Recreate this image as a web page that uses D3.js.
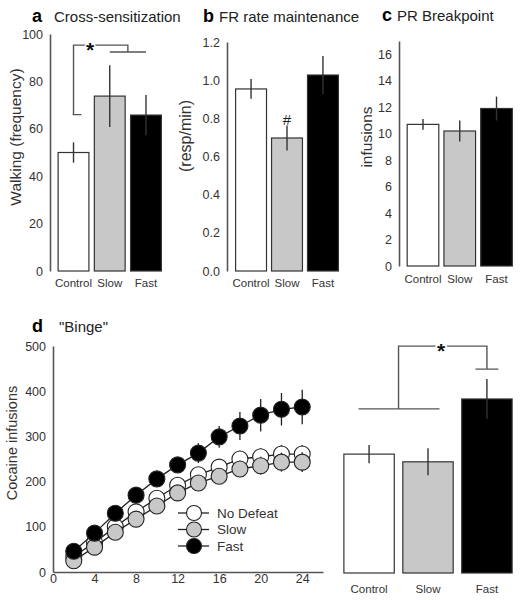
<!DOCTYPE html>
<html><head><meta charset="utf-8">
<script src="https://cdn.jsdelivr.net/npm/d3@7"></script>
<style>
body{margin:0;background:#fff}
svg text{font-family:"Liberation Sans",Arial,sans-serif}
</style>
</head><body>
<svg id="chart" width="520" height="600"></svg>
<script>
// ---------- data ----------
const groups = ["Control", "Slow", "Fast"];
const groupFills = ["#ffffff", "#c8c8c8", "#000000"];

const crossMean = [50, 73.8, 65.8];
const crossSem  = [4.3, 13, 8.5];
const crossTicks = [0, 20, 40, 60, 80, 100];

const frMean = [0.954, 0.697, 1.027];
const frSem  = [0.052, 0.065, 0.1];
const frTicks = [0, 0.2, 0.4, 0.6, 0.8, 1.0, 1.2];

const prMean = [10.7, 10.2, 11.9];
const prSem  = [0.4, 0.8, 0.9];
const prTicks = [0, 2, 4, 6, 8, 10, 12, 14, 16];

const bingeMean = [263, 246, 385];
const bingeSem  = [20, 30, 44];

const hours = [2, 4, 6, 8, 10, 12, 14, 16, 18, 20, 22, 24];
const hourTicks = [0, 4, 8, 12, 16, 20, 24];
const bingeTicks = [0, 100, 200, 300, 400, 500];
const noDefeatCum = [35, 65, 100, 133, 163, 192, 215, 232, 250, 255, 261, 261];
const noDefeatSem = [3, 5, 6, 8, 10, 12, 15, 17, 18, 19, 20, 20];
const slowCum = [25, 55, 88, 117, 146, 175, 197, 212, 228, 235, 243, 243];
const slowSem = [3, 5, 6, 8, 10, 12, 14, 16, 18, 20, 21, 22];
const fastCum = [46, 86, 130, 170, 206, 237, 263, 299, 323, 347, 360, 365];
const fastSem = [5, 8, 10, 12, 14, 16, 22, 24, 31, 36, 36, 38];
const seriesNames = ["No Defeat", "Slow", "Fast"];

// ---------- drawing ----------
const svg = d3.select("#chart");
const AX = "#555", INK = "#333";

function barPanel(o) {
  const g = svg.append("g");
  const y = d3.scaleLinear().domain(o.domain).range([o.bottom, o.top]);
  const x = d3.scaleBand().domain(groups).range(o.xr).paddingInner(o.pi).paddingOuter(0.1);
  // y axis
  const ya = g.append("g").attr("transform", `translate(${o.axisX},0)`)
    .call(d3.axisLeft(y).tickValues(o.ticks).tickFormat(o.fmt).tickSize(0).tickSizeOuter(0).tickPadding(7));
  ya.select(".domain").attr("stroke", AX).attr("stroke-width", 1.6);
  ya.selectAll("text").attr("font-size", 12.5).attr("fill", INK);
  // x axis labels
  const xa = g.append("g").attr("transform", `translate(0,${o.bottom})`)
    .call(d3.axisBottom(x).tickSize(0).tickPadding(o.xPad));
  xa.select(".domain").remove();
  xa.selectAll("text").attr("font-size", 11.5).attr("fill", INK);
  // bars
  g.selectAll("rect.bar").data(groups).join("rect").attr("class", "bar")
    .attr("x", d => x(d)).attr("width", x.bandwidth())
    .attr("y", (d, i) => y(o.mean[i])).attr("height", (d, i) => y(0) - y(o.mean[i]))
    .attr("fill", (d, i) => groupFills[i]).attr("stroke", INK).attr("stroke-width", 1.2);
  // error bars
  g.selectAll("line.err").data(groups).join("line").attr("class", "err")
    .attr("x1", d => x(d) + x.bandwidth() / 2).attr("x2", d => x(d) + x.bandwidth() / 2)
    .attr("y1", (d, i) => y(o.mean[i] + o.sem[i])).attr("y2", (d, i) => y(o.mean[i] - o.sem[i]))
    .attr("stroke", INK).attr("stroke-width", 1.4);
  // y label
  if (o.ylabel) {
    g.append("text").attr("transform", `translate(${o.ylx},${o.yly}) rotate(-90)`)
      .attr("text-anchor", "middle").attr("dominant-baseline", "central")
      .attr("font-size", o.ylSize).attr("fill", INK).text(o.ylabel);
  }
  // title
  g.append("text").attr("x", o.letterX).attr("y", o.titleY).attr("font-size", 18)
    .attr("font-weight", "bold").attr("fill", "#000").text(o.letter);
  g.append("text").attr("x", o.titleX).attr("y", o.titleY).attr("font-size", 15)
    .attr("fill", "#222").text(o.title);
  return {g, x, y};
}

// Panel a
const pa = barPanel({domain: [0, 100], bottom: 271, top: 34, xr: [54.5, 165], pi: 0.15, axisX: 50,
  ticks: crossTicks, fmt: d3.format("d"), mean: crossMean, sem: crossSem, xPad: 8,
  ylabel: "Walking (frequency)", ylx: 15, yly: 137, ylSize: 15.5,
  letter: "a", letterX: 32, titleX: 54, title: "Cross-sensitization", titleY: 22});
{
  const {g, x, y} = pa;
  const cx = x("Control") + x.bandwidth() / 2;
  const sx = x("Slow") + x.bandwidth() / 2;
  const fx = x("Fast") + x.bandwidth() / 2;
  const mid = (sx + fx) / 2;
  const path = `M${cx - 1},${y(66)}H${cx + 8}M${cx},${y(66)}V${y(95.3)}H${mid}V${y(92.4)}M${sx},${y(92.4)}H${fx}`;
  g.append("path").attr("d", path).attr("fill", "none").attr("stroke", AX).attr("stroke-width", 1.4);
  g.append("text").attr("x", 90).attr("y", y(95.3) + 12).attr("text-anchor", "middle")
    .attr("font-size", 21).attr("font-weight", "bold").attr("fill", "#111")
    .attr("stroke", "#fff").attr("stroke-width", 3).attr("paint-order", "stroke").text("*");
}

// Panel b
const pb = barPanel({domain: [0, 1.2], bottom: 271, top: 42, xr: [232, 342], pi: 0.14, axisX: 227,
  ticks: frTicks, fmt: d3.format(".1f"), mean: frMean, sem: frSem, xPad: 8,
  ylabel: "(resp/min)", ylx: 185, yly: 136, ylSize: 16,
  letter: "b", letterX: 203, titleX: 219, title: "FR rate maintenance", titleY: 22});
{
  const {g, x, y} = pb;
  g.append("text").attr("x", x("Slow") + x.bandwidth() / 2).attr("y", y(frMean[1] + frSem[1]) - 1)
    .attr("text-anchor", "middle").attr("font-size", 15).attr("fill", "#222").text("#");
}

// Panel c
barPanel({domain: [0, 17], bottom: 266, top: 41, xr: [403.5, 516], pi: 0.14, axisX: 399,
  ticks: prTicks, fmt: d3.format("d"), mean: prMean, sem: prSem, xPad: 9,
  ylabel: "infusions", ylx: 366, yly: 137, ylSize: 15.5,
  letter: "c", letterX: 382, titleX: 397, title: "PR Breakpoint", titleY: 21});

// Panel d - line chart
const xL = d3.scaleLinear().domain([0, 26]).range([53, 323]);
const yL = d3.scaleLinear().domain([0, 500]).range([572, 346]);
{
  const g = svg.append("g");
  const ya = g.append("g").attr("transform", "translate(53,0)")
    .call(d3.axisLeft(yL).tickValues(bingeTicks).tickSize(0).tickSizeOuter(0).tickPadding(7));
  ya.select(".domain").attr("stroke", AX).attr("stroke-width", 1.6);
  ya.selectAll("text").attr("font-size", 12.5).attr("fill", INK);
  const xa = g.append("g").attr("transform", "translate(0,572)")
    .call(d3.axisBottom(xL).tickValues(hourTicks).tickSize(0).tickSizeOuter(0).tickPadding(2));
  xa.select(".domain").attr("stroke", AX).attr("stroke-width", 1.6);
  xa.selectAll("text").attr("font-size", 12.5).attr("fill", INK);

  g.append("text").attr("transform", "translate(12,443) rotate(-90)")
    .attr("text-anchor", "middle").attr("dominant-baseline", "central")
    .attr("font-size", 14.5).attr("fill", INK).text("Cocaine infusions");
  g.append("text").attr("x", 32).attr("y", 332).attr("font-size", 18).attr("font-weight", "bold").text("d");
  g.append("text").attr("x", 59).attr("y", 332).attr("font-size", 15).attr("fill", "#222").text("\"Binge\"");

  const series = [
    {name: seriesNames[0], vals: noDefeatCum, sem: noDefeatSem, fill: groupFills[0]},
    {name: seriesNames[1], vals: slowCum, sem: slowSem, fill: groupFills[1]},
    {name: seriesNames[2], vals: fastCum, sem: fastSem, fill: groupFills[2]}
  ];
  const line = d3.line().x((d, i) => xL(hours[i])).y(d => yL(d));
  series.forEach(s => {
    const sg = g.append("g");
    sg.selectAll("line.err").data(s.vals).join("line").attr("class", "err")
      .attr("x1", (d, i) => xL(hours[i])).attr("x2", (d, i) => xL(hours[i]))
      .attr("y1", (d, i) => yL(d + s.sem[i])).attr("y2", (d, i) => yL(d - s.sem[i]))
      .attr("stroke", "#222").attr("stroke-width", 1.3);
    sg.append("path").attr("d", line(s.vals)).attr("fill", "none").attr("stroke", "#222").attr("stroke-width", 1.3);
    sg.selectAll("circle").data(s.vals).join("circle")
      .attr("cx", (d, i) => xL(hours[i])).attr("cy", d => yL(d)).attr("r", 8)
      .attr("fill", s.fill).attr("stroke", "#222").attr("stroke-width", 1.1);
  });
  // legend
  const lg = g.append("g");
  series.forEach((s, i) => {
    const ly = 513 + i * 16.5;
    lg.append("line").attr("x1", 178).attr("x2", 209).attr("y1", ly).attr("y2", ly)
      .attr("stroke", "#222").attr("stroke-width", 1.3);
    lg.append("circle").attr("cx", 194).attr("cy", ly).attr("r", 7.5)
      .attr("fill", s.fill).attr("stroke", "#222").attr("stroke-width", 1.1);
    lg.append("text").attr("x", 217).attr("y", ly).attr("dominant-baseline", "central")
      .attr("font-size", 13.5).attr("fill", INK).text(s.name);
  });
}

// Panel d - bar chart (same y scale as line chart)
{
  const g = svg.append("g");
  const x = d3.scaleBand().domain(groups).range([338, 518]).paddingInner(0.145).paddingOuter(0.1);
  const y = d3.scaleLinear().domain([0, 500]).range([573, 347]);
  const xa = g.append("g").attr("transform", "translate(0,573)")
    .call(d3.axisBottom(x).tickSize(0).tickPadding(12));
  xa.select(".domain").remove();
  xa.selectAll("text").attr("font-size", 11.5).attr("fill", INK);
  g.selectAll("rect").data(groups).join("rect")
    .attr("x", d => x(d)).attr("width", x.bandwidth())
    .attr("y", (d, i) => y(bingeMean[i])).attr("height", (d, i) => y(0) - y(bingeMean[i]))
    .attr("fill", (d, i) => groupFills[i]).attr("stroke", INK).attr("stroke-width", 1.2);
  g.selectAll("line.err").data(groups).join("line").attr("class", "err")
    .attr("x1", d => x(d) + x.bandwidth() / 2).attr("x2", d => x(d) + x.bandwidth() / 2)
    .attr("y1", (d, i) => y(bingeMean[i] + bingeSem[i])).attr("y2", (d, i) => y(bingeMean[i] - bingeSem[i]))
    .attr("stroke", INK).attr("stroke-width", 1.4);
  const cx = x("Control") + x.bandwidth() / 2;
  const sx = x("Slow") + x.bandwidth() / 2;
  const fx = x("Fast") + x.bandwidth() / 2;
  const mid = (cx + sx) / 2;
  const path = `M${mid - 40},${y(363)}H${mid + 41}M${mid},${y(363)}V${y(502)}H${fx}V${y(451)}M${fx - 11.5},${y(451)}H${fx + 11.5}`;
  g.append("path").attr("d", path).attr("fill", "none").attr("stroke", AX).attr("stroke-width", 1.4);
  g.append("text").attr("x", 441).attr("y", y(502) + 12).attr("text-anchor", "middle")
    .attr("font-size", 21).attr("font-weight", "bold").attr("fill", "#111")
    .attr("stroke", "#fff").attr("stroke-width", 4).attr("paint-order", "stroke").text("*");
}
</script>
</body></html>
